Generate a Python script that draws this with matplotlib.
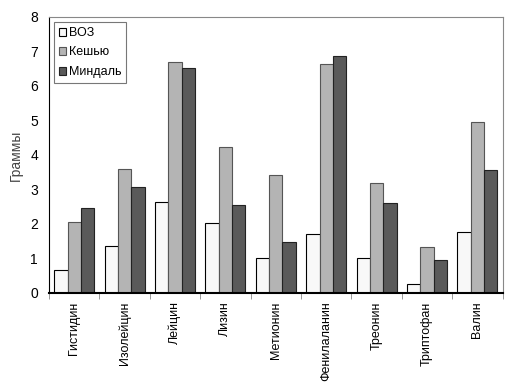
import matplotlib.pyplot as plt
import numpy as np

plt.rcParams['font.family'] = ['Liberation Sans', 'DejaVu Sans']

# Amino acids and grams per series
categories = ['Гистидин', 'Изолейцин', 'Лейцин', 'Лизин', 'Метионин',
              'Фенилаланин', 'Треонин', 'Триптофан', 'Валин']
voz = [0.68, 1.37, 2.65, 2.04, 1.02, 1.70, 1.02, 0.27, 1.77]
cashew = [2.07, 3.60, 6.70, 4.22, 3.43, 6.63, 3.20, 1.32, 4.97]
almond = [2.47, 3.08, 6.52, 2.55, 1.49, 6.87, 2.60, 0.95, 3.57]

fig = plt.figure(figsize=(5.12, 3.86), dpi=100)
ax = fig.add_axes([0.0957, 0.241, 0.886, 0.715])

x = np.arange(len(categories))
w = 0.265
ax.bar(x - w, voz, w, color='#f8f8f8', edgecolor='black', linewidth=0.8, label='ВОЗ')
ax.bar(x, cashew, w, color='#b4b4b4', edgecolor='#555555', linewidth=0.8, label='Кешью')
ax.bar(x + w, almond, w, color='#5a5a5a', edgecolor='#222222', linewidth=0.8, label='Миндаль')

ax.set_xlim(-0.5, len(categories) - 0.5)
ax.set_ylim(0, 8)
ax.set_yticks(range(0, 9))
ax.tick_params(axis='y', length=0, labelsize=10, pad=8)

ax.set_xticks(x)
ax.set_xticklabels(categories, rotation=90, fontsize=9)
ax.tick_params(axis='x', length=0, pad=6)
ax.set_xticks(np.arange(-0.5, len(categories), 1), minor=True)
ax.tick_params(axis='x', which='minor', length=4, color='#888888')

ax.spines['left'].set_color('black')
ax.spines['bottom'].set_color('black')
ax.spines['bottom'].set_linewidth(1.5)
ax.spines['top'].set_color('#888888')
ax.spines['right'].set_color('#888888')

ax.set_ylabel('Граммы', fontsize=10, color='#444444', labelpad=5)

leg = ax.legend(loc='upper left', fontsize=9, frameon=True, fancybox=False,
                handlelength=0.6, handleheight=0.6, handletextpad=0.2,
                borderpad=0.4, labelspacing=0.6, borderaxespad=0.4)
leg.get_frame().set_edgecolor('#555555')
leg.get_frame().set_linewidth(0.8)

fig.savefig('out.png', dpi=100)
